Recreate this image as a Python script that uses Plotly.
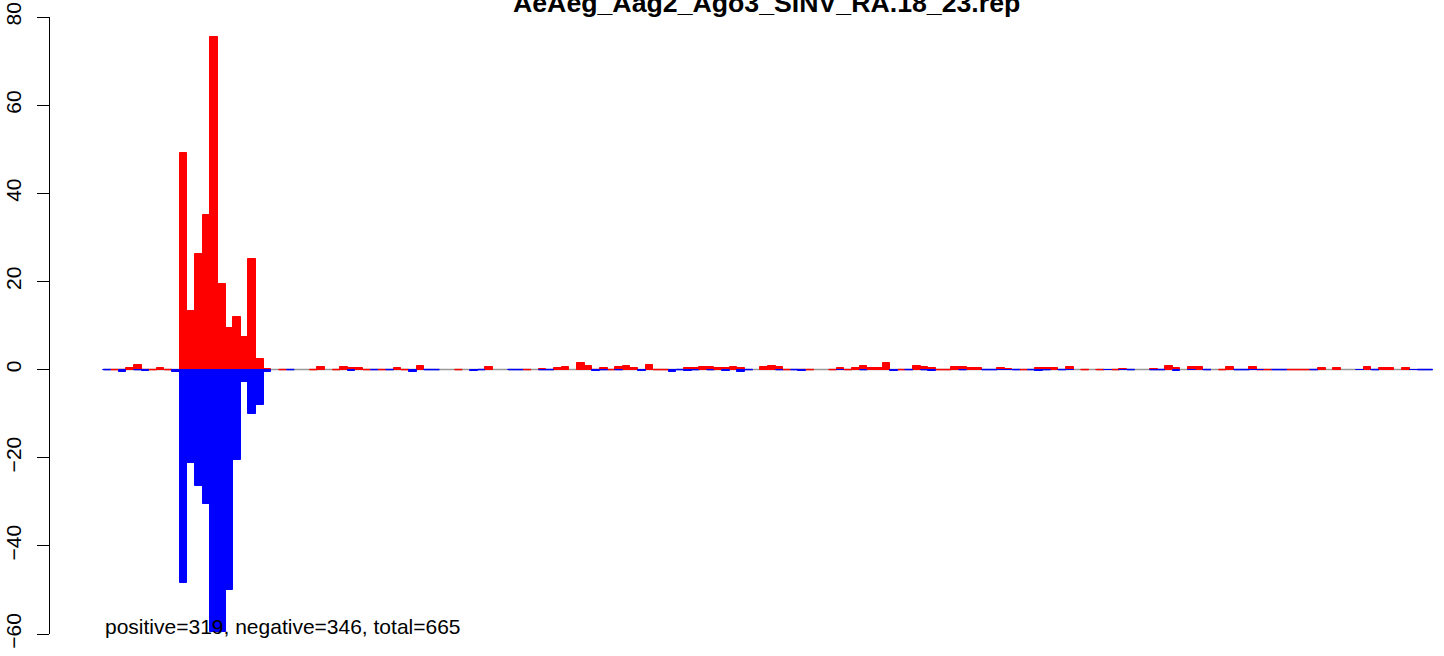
import plotly.graph_objects as go

N = None  # bin with no value drawn (only the grey baseline shows)

# per-bin values (0 = zero-height bar, drawn as a coloured baseline)
positive = [
    N, 0, 0, 0.4, 1.0, 0, 0, 0.45, 0, N,
    49.2, 13.4, 26.3, 35.1, 75.5, 19.5, 9.5, 12.0, 7.3, 25.2,
    2.3, 0.2, N, 0, N, N, N, 0, 0.5, N,
    0, 0.5, 0.3, 0.3, 0, N, 0, N, 0.3, 0,
    N, 0.7, N, N, N, N, 0, N, N, N,
    0.5, N, N, N, N, 0, N, 0.2, N, 0.3,
    0.5, N, 1.4, 0.7, 0, 0.3, 0, 0.5, 0.7, 0.3,
    N, 1.0, 0, 0, N, N, 0.3, 0.3, 0.5, 0.5,
    0.3, 0.3, 0.5, 0.3, N, N, 0.5, 0.7, 0.5, 0,
    N, 0, 0, N, N, 0, 0.3, 0, 0.3, 0.7,
    0.3, 0.3, 1.4, N, 0, N, 0.7, 0.5, 0.3, 0,
    0, 0.5, 0.5, 0.3, 0.3, N, N, 0.4, 0.2, N,
    0, N, 0.3, 0.3, 0.3, N, 0.5, N, 0, N,
    0, N, 0, 0.2, N, N, N, 0.2, N, 0.7,
    0.3, N, 0.5, 0.5, N, N, 0, 0.5, N, N,
    0.5, 0, 0, N, N, 0, 0, 0, N, 0.3,
    N, 0.3, N, N, N, 0.5, N, 0.3, 0.3, N,
    0.3, N, N, N,
]

negative = [
    0, N, -0.5, N, 0, -0.3, N, N, N, -0.6,
    -48.5, -21.1, -26.5, -30.4, -59.5, -59.5, -50.0, -20.6, -2.9, -10.1,
    -8.1, -0.6, N, N, 0, N, N, N, N, N,
    N, N, -0.3, N, N, 0, N, 0, N, N,
    -0.5, N, 0, 0, N, N, N, N, -0.3, 0,
    N, N, N, 0, 0, N, N, 0, 0, N,
    N, N, N, N, -0.3, 0, N, 0, N, N,
    -0.4, N, N, N, -0.5, 0, -0.3, 0, N, 0,
    N, -0.3, N, -0.5, 0, N, N, N, 0, N,
    0, -0.3, N, N, N, N, -0.2, N, N, 0,
    N, N, N, -0.3, N, 0, N, 0, -0.3, N,
    N, N, 0, N, N, 0, 0, -0.2, -0.2, 0,
    N, 0, -0.3, 0, N, 0, -0.2, N, N, N,
    N, -0.2, N, -0.2, 0, N, N, 0, 0, N,
    -0.3, N, -0.2, N, 0, N, N, N, 0, 0,
    -0.2, -0.2, N, 0, 0, N, N, N, 0, N,
    N, N, N, N, -0.2, N, 0, N, N, N,
    N, -0.2, 0, 0,
]

y_ticks = [-60, -40, -20, 0, 20, 40, 60, 80]
title_text = "AeAeg_Aag2_Ago3_SINV_RA.18_23.rep"
summary_text = "positive=319, negative=346, total=665"

n_bins = len(positive)
centers = [i + 0.5 for i in range(n_bins)]

fig = go.Figure()
fig.add_trace(go.Bar(
    x=centers, y=positive, width=1,
    marker=dict(color="#ff0000", line=dict(color="#ff0000", width=1)),
    hoverinfo="skip", showlegend=False,
))
fig.add_trace(go.Bar(
    x=centers, y=negative, width=1,
    marker=dict(color="#0000ff", line=dict(color="#0000ff", width=1)),
    hoverinfo="skip", showlegend=False,
))

shapes = [dict(type="line", xref="x", yref="y", x0=0, x1=n_bins, y0=0, y1=0,
               line=dict(color="#999999", width=1.5), layer="below")]
for vals, col in ((positive, "#ff0000"), (negative, "#0000ff")):
    for i, v in enumerate(vals):
        if v is not None and v == 0:
            shapes.append(dict(type="line", xref="x", yref="y", x0=i, x1=i + 1, y0=0, y1=0,
                               line=dict(color=col, width=1.5), layer="below"))

FONT = "Liberation Sans, Arial, sans-serif"

fig.update_layout(
    width=1444, height=656,
    margin=dict(l=50, r=0, t=17, b=22, pad=0),
    paper_bgcolor="white", plot_bgcolor="white",
    barmode="overlay", bargap=0,
    showlegend=False,
    font=dict(family=FONT, size=21, color="black"),
    shapes=shapes,
    xaxis=dict(range=[-6.98, 175.5], visible=False, showgrid=False, zeroline=False),
    yaxis=dict(range=[-60, 80], tickvals=y_ticks, tickangle=-90,
               showgrid=False, zeroline=False, showline=True, linecolor="black", linewidth=1,
               ticks="outside", ticklen=12, tickwidth=1, tickcolor="black",
               ticklabelstandoff=8, ticklabeloverflow="allow",
               tickfont=dict(size=21, family=FONT)),
    annotations=[
        dict(text="<b>" + title_text + "</b>", xref="paper", yref="paper",
             x=0.514, y=1.022, xanchor="center", yanchor="middle", showarrow=False,
             font=dict(size=26.7, family=FONT, color="black")),
        dict(text=summary_text, xref="x", yref="y", x=0, y=-58.3,
             xanchor="left", yanchor="middle", showarrow=False,
             font=dict(size=21, family=FONT, color="black")),
    ],
)

fig.write_html("out.html", config={"displayModeBar": False},
               post_script="document.body.style.margin='0px';")
